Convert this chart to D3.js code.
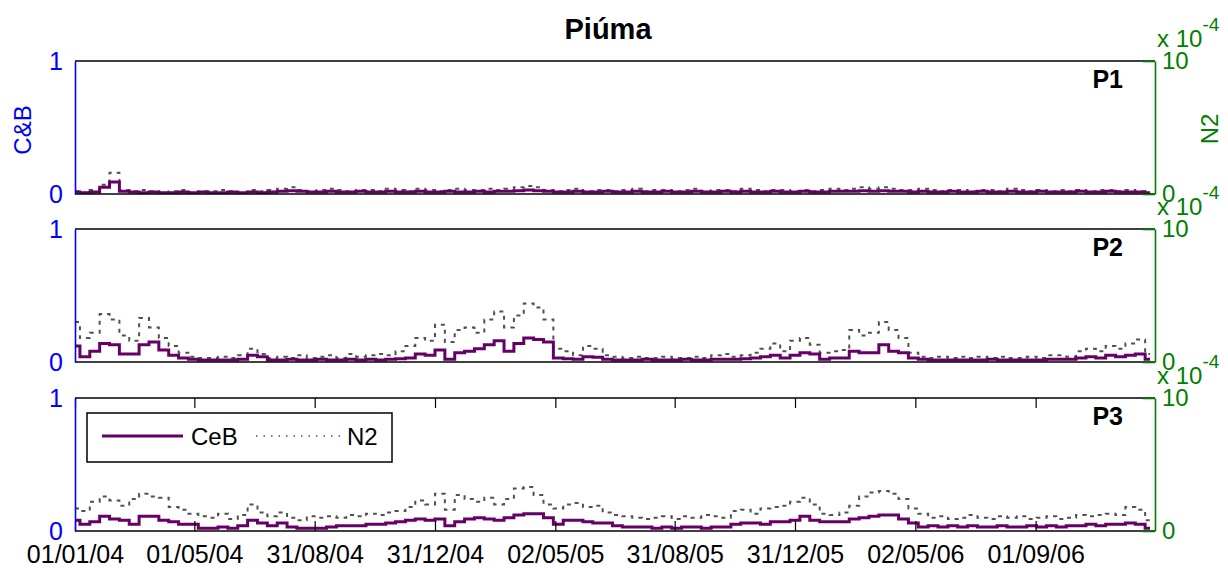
<!DOCTYPE html>
<html>
<head>
<meta charset="utf-8">
<script src="https://cdn.jsdelivr.net/npm/d3@7"></script>
<style>
  body { margin: 0; background: #fff; }
  svg text { font-family: "Liberation Sans", Arial, sans-serif; }
</style>
</head>
<body>
<svg id="chart" width="1228" height="568"></svg>
<script>
// dados amostrados a cada 10 dias (01/01/04 .. 27/12/06)
const start = new Date(Date.UTC(2004, 0, 1))
const stop = new Date(Date.UTC(2007, 0, 1))
const dates = d3.utcDay.range(start, stop, 10)

const panelNames = ["P1", "P2", "P3"]

// C&B (eixo esquerdo, 0..1)
const ceb1 = [0.015,0.01,0.015,0.05,0.09,0.02,0.015,0.01,0.015,0.01,
  0.01,0.015,0.01,0.015,0.01,0.01,0.015,0.01,0.015,0.01,
  0.015,0.02,0.025,0.02,0.015,0.015,0.02,0.015,0.015,0.02,
  0.015,0.015,0.02,0.015,0.015,0.02,0.015,0.015,0.02,0.015,
  0.015,0.02,0.015,0.02,0.02,0.025,0.03,0.025,0.02,0.015,
  0.015,0.02,0.015,0.015,0.02,0.015,0.015,0.02,0.015,0.015,
  0.02,0.015,0.015,0.02,0.015,0.015,0.02,0.015,0.02,0.015,
  0.015,0.02,0.015,0.015,0.02,0.015,0.015,0.02,0.02,0.02,
  0.025,0.02,0.025,0.02,0.02,0.015,0.02,0.015,0.015,0.02,
  0.015,0.015,0.02,0.015,0.015,0.02,0.015,0.015,0.02,0.015,
  0.015,0.015,0.02,0.015,0.015,0.02,0.015,0.015,0.015,0.01]
const ceb2 = [0.12,0.04,0.08,0.14,0.13,0.06,0.06,0.13,0.15,0.09,
  0.05,0.03,0.02,0.015,0.015,0.015,0.015,0.02,0.05,0.04,
  0.015,0.015,0.02,0.015,0.015,0.02,0.015,0.015,0.02,0.015,
  0.02,0.015,0.02,0.025,0.03,0.06,0.05,0.09,0.02,0.07,
  0.08,0.10,0.13,0.16,0.08,0.14,0.18,0.17,0.15,0.03,
  0.025,0.02,0.04,0.035,0.02,0.015,0.015,0.015,0.02,0.015,
  0.015,0.015,0.02,0.015,0.015,0.02,0.02,0.02,0.025,0.03,
  0.04,0.05,0.03,0.05,0.07,0.06,0.02,0.03,0.03,0.08,
  0.07,0.07,0.13,0.08,0.07,0.03,0.02,0.015,0.015,0.015,
  0.015,0.015,0.015,0.02,0.015,0.015,0.015,0.015,0.015,0.02,
  0.02,0.02,0.03,0.04,0.03,0.05,0.04,0.05,0.06,0.02]
const ceb3 = [0.08,0.05,0.07,0.11,0.09,0.08,0.05,0.11,0.11,0.08,
  0.07,0.05,0.05,0.02,0.02,0.03,0.02,0.04,0.08,0.06,
  0.04,0.06,0.03,0.02,0.02,0.02,0.03,0.04,0.04,0.04,
  0.05,0.05,0.06,0.07,0.08,0.09,0.08,0.09,0.04,0.07,
  0.09,0.10,0.09,0.08,0.10,0.12,0.13,0.13,0.10,0.05,
  0.08,0.08,0.07,0.06,0.06,0.04,0.03,0.03,0.03,0.02,
  0.03,0.02,0.03,0.03,0.02,0.03,0.03,0.05,0.06,0.06,
  0.05,0.07,0.07,0.08,0.11,0.08,0.07,0.07,0.07,0.09,
  0.10,0.11,0.12,0.12,0.09,0.06,0.03,0.04,0.03,0.04,
  0.03,0.04,0.03,0.03,0.04,0.03,0.03,0.04,0.03,0.04,
  0.03,0.04,0.04,0.05,0.04,0.05,0.05,0.06,0.05,0.02]

// N2 (eixo direito, x 10^-4)
const n2_1 = [0.2,0.1,0.3,0.7,1.6,0.3,0.2,0.3,0.2,0.1,
  0.2,0.3,0.1,0.2,0.2,0.3,0.2,0.1,0.3,0.2,
  0.3,0.4,0.5,0.3,0.2,0.3,0.4,0.3,0.2,0.3,
  0.3,0.2,0.4,0.3,0.2,0.4,0.3,0.2,0.3,0.4,
  0.3,0.3,0.4,0.3,0.4,0.5,0.6,0.5,0.3,0.2,
  0.3,0.4,0.2,0.3,0.3,0.2,0.3,0.4,0.2,0.3,
  0.3,0.2,0.3,0.4,0.2,0.3,0.3,0.2,0.4,0.3,
  0.2,0.3,0.3,0.2,0.3,0.2,0.3,0.4,0.3,0.4,
  0.5,0.4,0.5,0.4,0.3,0.3,0.4,0.3,0.2,0.3,
  0.3,0.2,0.3,0.3,0.2,0.4,0.3,0.2,0.3,0.2,
  0.3,0.2,0.3,0.2,0.3,0.3,0.2,0.3,0.2,0.1]
const n2_2 = [3.0,1.8,2.2,3.6,3.2,2.0,1.6,3.3,2.6,1.8,
  1.2,0.7,0.4,0.3,0.3,0.4,0.3,0.5,1.0,0.6,
  0.3,0.4,0.3,0.5,0.3,0.4,0.5,0.3,0.6,0.4,
  0.5,0.6,0.5,0.8,1.2,1.8,1.6,2.8,1.5,2.4,
  2.6,2.2,3.2,3.8,2.6,3.5,4.4,4.1,3.2,1.0,
  0.8,0.5,1.2,1.0,0.5,0.4,0.3,0.4,0.3,0.3,
  0.4,0.3,0.3,0.4,0.3,0.5,0.6,0.4,0.5,0.7,
  1.0,1.4,0.8,1.6,1.8,1.3,0.7,0.8,0.9,2.4,
  2.0,2.2,3.0,2.4,1.8,0.7,0.4,0.3,0.4,0.3,
  0.4,0.3,0.4,0.3,0.4,0.3,0.3,0.4,0.3,0.5,
  0.5,0.4,0.8,1.0,0.8,1.2,1.0,1.4,1.7,0.6]
const n2_3 = [1.7,1.5,2.2,2.6,2.3,1.9,2.4,2.8,2.6,2.5,
  1.8,1.6,1.3,1.1,1.0,1.3,0.9,1.2,2.0,1.4,
  1.1,1.4,1.0,0.8,1.1,1.0,1.1,1.0,1.2,1.1,
  1.3,1.2,1.4,1.5,1.8,2.3,2.0,2.8,1.6,2.7,
  2.4,2.2,2.5,2.0,2.4,3.2,3.3,2.7,2.0,1.7,
  2.0,2.1,1.8,1.9,1.4,1.2,1.1,1.0,0.9,1.0,
  1.1,0.9,1.1,1.0,1.2,1.1,1.0,1.5,1.6,1.3,
  1.7,1.8,1.9,2.2,2.5,2.0,1.3,1.2,1.4,1.9,
  2.6,2.9,3.0,2.8,2.4,1.7,1.3,1.0,1.1,0.9,
  1.0,1.2,1.0,0.9,1.1,1.0,1.1,0.9,1.0,1.1,
  0.9,1.0,1.2,1.1,1.2,1.3,1.2,1.8,1.6,0.8]

const tickDates = ["01/01/04","01/05/04","31/08/04","31/12/04","02/05/05",
  "31/08/05","31/12/05","02/05/06","01/09/06"]

const cebSeries = [ceb1, ceb2, ceb3]
const n2Series = [n2_1, n2_2, n2_3]

const parseTick = d3.utcParse("%d/%m/%y")
const fmtTick = d3.utcFormat("%d/%m/%y")

const left = 75, right = 1155
const tops = [61, 229, 398]
const ph = 133

const purple = "#660066", blue = "#0000ff", green = "#008000", grey = "#505050"
const fontFam = "'Liberation Sans', Arial, sans-serif"

const svg = d3.select("#chart")

const x = d3.scaleUtc()
  .domain([start, new Date(Date.UTC(2006, 11, 31))])
  .range([left, right])

// titulo
svg.append("text")
  .attr("x", 608).attr("y", 39)
  .attr("text-anchor", "middle")
  .style("font-size", "29px").style("font-weight", "bold")
  .text("Piúma")

tops.forEach((top, k) => {
  const bottom = top + ph
  const yL = d3.scaleLinear().domain([0, 1]).range([bottom, top])
  const yR = d3.scaleLinear().domain([0, 10]).range([bottom, top])

  const g = svg.append("g").attr("class", "panel")

  g.append("clipPath").attr("id", "clip" + k)
    .append("rect").attr("x", left).attr("y", top - 2)
    .attr("width", right - left).attr("height", ph + 2)

  // N2 pontilhado
  g.append("path")
    .datum(n2Series[k])
    .attr("clip-path", `url(#clip${k})`)
    .attr("fill", "none")
    .attr("stroke", grey)
    .attr("stroke-width", 2)
    .attr("stroke-dasharray", "4,5")
    .attr("d", d3.line().curve(d3.curveStep).x((d, i) => x(dates[i])).y(d => yR(d)))

  // C&B
  g.append("path")
    .datum(cebSeries[k])
    .attr("clip-path", `url(#clip${k})`)
    .attr("fill", "none")
    .attr("stroke", purple)
    .attr("stroke-width", 3)
    .attr("d", d3.line().curve(d3.curveStep).x((d, i) => x(dates[i])).y(d => yL(d)))

  // caixa
  g.append("line").attr("x1", left).attr("x2", right).attr("y1", top).attr("y2", top)
    .attr("stroke", "#000").attr("stroke-width", 1.5)
  g.append("line").attr("x1", left).attr("x2", right).attr("y1", bottom).attr("y2", bottom)
    .attr("stroke", "#000").attr("stroke-width", 1.5)

  // ticks de data so no ultimo painel
  if (k === 2) {
    const tv = tickDates.map(parseTick)
    g.append("g")
      .attr("transform", `translate(0,${bottom})`)
      .call(d3.axisBottom(x).tickValues(tv).tickFormat(fmtTick).tickSizeInner(-10).tickSizeOuter(0).tickPadding(14))
      .call(a => a.select(".domain").remove())
      .call(a => a.selectAll("line").attr("stroke", "#000").attr("stroke-width", 1.2))
      .call(a => a.selectAll("text")
        .style("font-size", "25px").attr("fill", "#000")
        .style("font-family", fontFam))
    g.append("g")
      .attr("transform", `translate(0,${top})`)
      .call(d3.axisTop(x).tickValues(tv).tickFormat("").tickSizeInner(-10).tickSizeOuter(0))
      .call(a => a.select(".domain").remove())
      .call(a => a.selectAll("line").attr("stroke", "#000").attr("stroke-width", 1.2))
  }

  // eixo esquerdo (azul)
  g.append("g")
    .attr("transform", `translate(${left},0)`)
    .call(d3.axisLeft(yL).tickValues([0, 1]).tickFormat(d3.format("d")).tickSize(0).tickPadding(12))
    .call(a => a.select(".domain").attr("stroke", blue).attr("stroke-width", 1.6))
    .call(a => a.selectAll("text").style("font-size", "25px").attr("fill", blue)
      .style("font-family", fontFam))

  // eixo direito (verde)
  g.append("g")
    .attr("transform", `translate(${right},0)`)
    .call(d3.axisRight(yR).tickValues([0, 10]).tickFormat(d3.format("d")).tickSizeInner(-12).tickSizeOuter(0).tickPadding(7))
    .call(a => a.select(".domain").attr("stroke", green).attr("stroke-width", 1.6))
    .call(a => a.selectAll("line").attr("stroke", green).attr("stroke-width", 1.6))
    .call(a => a.selectAll("text").style("font-size", "24px").attr("fill", green)
      .style("font-family", fontFam))

  // multiplicador x 10^-4
  const mult = g.append("text")
    .attr("x", 1157).attr("y", top - 14)
    .attr("fill", green).style("font-size", "24px")
  mult.append("tspan").text("x 10")
  mult.append("tspan").attr("dy", -16).style("font-size", "19px").text("-4")

  // nome do painel
  g.append("text")
    .attr("x", 1123).attr("y", top + 27)
    .attr("text-anchor", "end")
    .style("font-size", "25px").style("font-weight", "bold")
    .text(panelNames[k])

  if (k === 0) {
    g.append("text")
      .attr("transform", `translate(31,${top + 69}) rotate(-90)`)
      .attr("text-anchor", "middle")
      .attr("fill", blue).style("font-size", "24px")
      .text("C&B")
    g.append("text")
      .attr("transform", `translate(1218,${top + 68}) rotate(-90)`)
      .attr("text-anchor", "middle")
      .attr("fill", green).style("font-size", "24px")
      .text("N2")
  }
})

// legenda no painel 3
const lg = svg.append("g").attr("class", "legend")
lg.append("rect")
  .attr("x", 87).attr("y", 413).attr("width", 305).attr("height", 49)
  .attr("fill", "#fff").attr("stroke", "#000").attr("stroke-width", 1.5)
lg.append("line").attr("x1", 102).attr("x2", 183).attr("y1", 436).attr("y2", 436)
  .attr("stroke", purple).attr("stroke-width", 3)
lg.append("text").attr("x", 191).attr("y", 445).style("font-size", "24px").text("CeB")
lg.append("line").attr("x1", 256).attr("x2", 340).attr("y1", 436).attr("y2", 436)
  .attr("stroke", grey).attr("stroke-width", 1.6).attr("stroke-dasharray", "1.5,6")
lg.append("text").attr("x", 347).attr("y", 445).style("font-size", "24px").text("N2")
</script>
</body>
</html>
